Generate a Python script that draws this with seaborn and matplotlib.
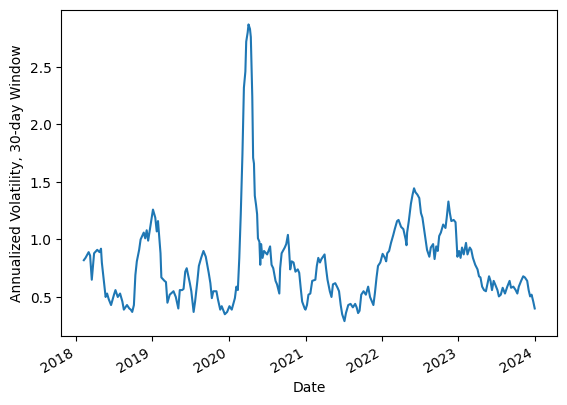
import pandas as pd
import matplotlib
matplotlib.use("Agg")
import matplotlib.pyplot as plt
import seaborn as sns

# 30-day rolling annualized volatility (approx. weekly samples)
dates_2018 = ["2018-02-08", "2018-02-16", "2018-03-03", "2018-03-10", "2018-03-18", "2018-03-29",
              "2018-04-13", "2018-04-24", "2018-05-01", "2018-05-05", "2018-05-16", "2018-05-23",
              "2018-05-30", "2018-06-07", "2018-06-18", "2018-07-02", "2018-07-09", "2018-07-20",
              "2018-07-31", "2018-08-11", "2018-08-18", "2018-09-02", "2018-09-13", "2018-09-20",
              "2018-09-27", "2018-10-05", "2018-10-12", "2018-10-19", "2018-10-30", "2018-11-06",
              "2018-11-21", "2018-11-28", "2018-12-05", "2018-12-12", "2018-12-27"]
vol_2018 = [0.82, 0.84, 0.89, 0.86, 0.65, 0.88, 0.91, 0.89, 0.92, 0.80, 0.62, 0.50,
            0.53, 0.48, 0.43, 0.52, 0.56, 0.50, 0.53, 0.46, 0.39, 0.43, 0.40, 0.39,
            0.37, 0.43, 0.69, 0.81, 0.91, 1.00, 1.06, 1.01, 1.08, 0.99, 1.17]

dates_2019 = ["2019-01-04", "2019-01-15", "2019-01-22", "2019-01-28", "2019-02-02", "2019-02-09",
              "2019-02-13", "2019-02-28", "2019-03-07", "2019-03-14", "2019-03-25", "2019-04-12",
              "2019-04-23", "2019-05-05", "2019-05-12", "2019-05-23", "2019-05-30", "2019-06-07",
              "2019-06-14", "2019-06-21", "2019-06-29", "2019-07-06", "2019-07-17", "2019-07-24",
              "2019-08-04", "2019-08-11", "2019-08-22", "2019-09-02", "2019-09-13", "2019-09-27",
              "2019-10-05", "2019-10-12", "2019-10-19", "2019-11-03", "2019-11-10", "2019-11-21",
              "2019-11-28", "2019-12-13", "2019-12-24"]
vol_2019 = [1.26, 1.19, 1.07, 1.16, 1.04, 0.88, 0.67, 0.64, 0.63, 0.45, 0.52, 0.55,
            0.50, 0.40, 0.56, 0.56, 0.57, 0.72, 0.75, 0.69, 0.62, 0.55, 0.37, 0.46,
            0.64, 0.77, 0.84, 0.90, 0.85, 0.71, 0.62, 0.49, 0.55, 0.55, 0.48, 0.39,
            0.42, 0.35, 0.37]

dates_2020 = ["2020-01-04", "2020-01-15", "2020-01-30", "2020-02-06", "2020-02-13", "2020-02-20",
              "2020-02-27", "2020-03-06", "2020-03-13", "2020-03-20", "2020-03-24", "2020-03-31",
              "2020-04-04", "2020-04-11", "2020-04-15", "2020-04-22", "2020-04-26", "2020-04-30",
              "2020-05-04", "2020-05-10", "2020-05-15", "2020-05-19", "2020-05-26", "2020-05-30",
              "2020-06-03", "2020-06-10", "2020-06-17", "2020-07-02", "2020-07-16", "2020-07-23",
              "2020-07-31", "2020-08-11", "2020-08-18", "2020-08-29", "2020-09-02", "2020-09-09",
              "2020-09-24", "2020-10-01", "2020-10-09", "2020-10-14", "2020-10-20", "2020-10-27",
              "2020-11-05", "2020-11-14", "2020-11-25", "2020-12-02", "2020-12-09", "2020-12-16",
              "2020-12-28"]
vol_2020 = [0.42, 0.39, 0.49, 0.59, 0.56, 0.84, 1.22, 1.74, 2.32, 2.46, 2.72, 2.80,
            2.87, 2.83, 2.76, 2.24, 1.71, 1.66, 1.38, 1.30, 1.22, 1.01, 0.98, 0.78,
            0.96, 0.84, 0.90, 0.87, 0.94, 0.78, 0.75, 0.64, 0.61, 0.53, 0.75, 0.88,
            0.93, 0.96, 1.04, 0.93, 0.74, 0.81, 0.80, 0.72, 0.74, 0.71, 0.58, 0.46,
            0.40]

dates_2021 = ["2021-01-01", "2021-01-08", "2021-01-15", "2021-01-24", "2021-02-02", "2021-02-17",
              "2021-02-24", "2021-03-03", "2021-03-11", "2021-03-18", "2021-04-02", "2021-04-09",
              "2021-04-16", "2021-04-27", "2021-05-05", "2021-05-12", "2021-05-23", "2021-06-03",
              "2021-06-10", "2021-06-18", "2021-06-25", "2021-07-06", "2021-07-13", "2021-07-24",
              "2021-08-04", "2021-08-15", "2021-08-26", "2021-09-02", "2021-09-09", "2021-09-16",
              "2021-09-24", "2021-10-05", "2021-10-16", "2021-10-27", "2021-11-05", "2021-11-14",
              "2021-11-21", "2021-11-28", "2021-12-06", "2021-12-13", "2021-12-24"]
vol_2021 = [0.39, 0.43, 0.52, 0.53, 0.64, 0.65, 0.77, 0.84, 0.80, 0.83, 0.87, 0.75,
            0.65, 0.55, 0.50, 0.61, 0.62, 0.58, 0.55, 0.43, 0.35, 0.29, 0.36, 0.43,
            0.44, 0.41, 0.44, 0.41, 0.36, 0.38, 0.52, 0.55, 0.52, 0.59, 0.50, 0.46,
            0.43, 0.53, 0.67, 0.77, 0.80]

dates_2022 = ["2022-01-04", "2022-01-15", "2022-01-21", "2022-01-26", "2022-02-04", "2022-02-13",
              "2022-02-24", "2022-03-03", "2022-03-14", "2022-03-21", "2022-04-02", "2022-04-13",
              "2022-04-24", "2022-04-28", "2022-05-01", "2022-05-09", "2022-05-19", "2022-05-27",
              "2022-06-03", "2022-06-10", "2022-06-19", "2022-06-28", "2022-07-06", "2022-07-13",
              "2022-07-20", "2022-07-27", "2022-08-04", "2022-08-15", "2022-08-22", "2022-09-02",
              "2022-09-09", "2022-09-17", "2022-09-24", "2022-10-01", "2022-10-09", "2022-10-20",
              "2022-10-31", "2022-11-06", "2022-11-14", "2022-11-21", "2022-11-28", "2022-12-09",
              "2022-12-18", "2022-12-27"]
vol_2022 = [0.875, 0.84, 0.81, 0.88, 0.90, 0.97, 1.04, 1.09, 1.16, 1.17, 1.11, 1.09,
            1.00, 0.95, 1.06, 1.16, 1.31, 1.39, 1.445, 1.41, 1.39, 1.36, 1.23, 1.19,
            1.10, 1.01, 0.91, 0.85, 0.93, 0.96, 0.83, 0.94, 0.90, 1.03, 1.06, 1.13,
            1.10, 1.19, 1.33, 1.23, 1.16, 1.17, 1.15, 0.85]

dates_2023 = ["2023-01-04", "2023-01-11", "2023-01-18", "2023-01-26", "2023-02-06", "2023-02-13",
              "2023-02-24", "2023-03-03", "2023-03-11", "2023-03-22", "2023-04-02", "2023-04-09",
              "2023-04-16", "2023-04-24", "2023-05-03", "2023-05-12", "2023-05-19", "2023-05-27",
              "2023-06-03", "2023-06-10", "2023-06-18", "2023-06-25", "2023-07-06", "2023-07-13",
              "2023-07-22", "2023-07-31", "2023-08-11", "2023-08-22", "2023-09-02", "2023-09-09",
              "2023-09-20", "2023-10-01", "2023-10-09", "2023-10-16", "2023-10-27", "2023-11-06",
              "2023-11-14", "2023-11-25", "2023-12-02", "2023-12-09", "2023-12-16", "2023-12-24",
              "2023-12-31"]
vol_2023 = [0.90, 0.84, 0.93, 0.87, 0.97, 0.87, 0.93, 0.91, 0.84, 0.78, 0.74, 0.68,
            0.67, 0.59, 0.56, 0.55, 0.61, 0.68, 0.64, 0.56, 0.64, 0.61, 0.56, 0.505,
            0.52, 0.58, 0.53, 0.59, 0.64, 0.58, 0.59, 0.56, 0.53, 0.59, 0.64, 0.68,
            0.67, 0.64, 0.56, 0.505, 0.52, 0.46, 0.40]

dates = dates_2018 + dates_2019 + dates_2020 + dates_2021 + dates_2022 + dates_2023
vol = vol_2018 + vol_2019 + vol_2020 + vol_2021 + vol_2022 + vol_2023

df = pd.DataFrame({"Date": pd.to_datetime(dates), "vol": vol})

fig, ax = plt.subplots(figsize=(6.4, 4.8), dpi=100)
sns.lineplot(data=df, x="Date", y="vol", ax=ax, color="#1f77b4", linewidth=1.5)
ax.set_xlabel("Date")
ax.set_ylabel("Annualized Volatility, 30-day Window")
fig.autofmt_xdate()

fig.savefig("out.png", dpi=100, bbox_inches="tight")
